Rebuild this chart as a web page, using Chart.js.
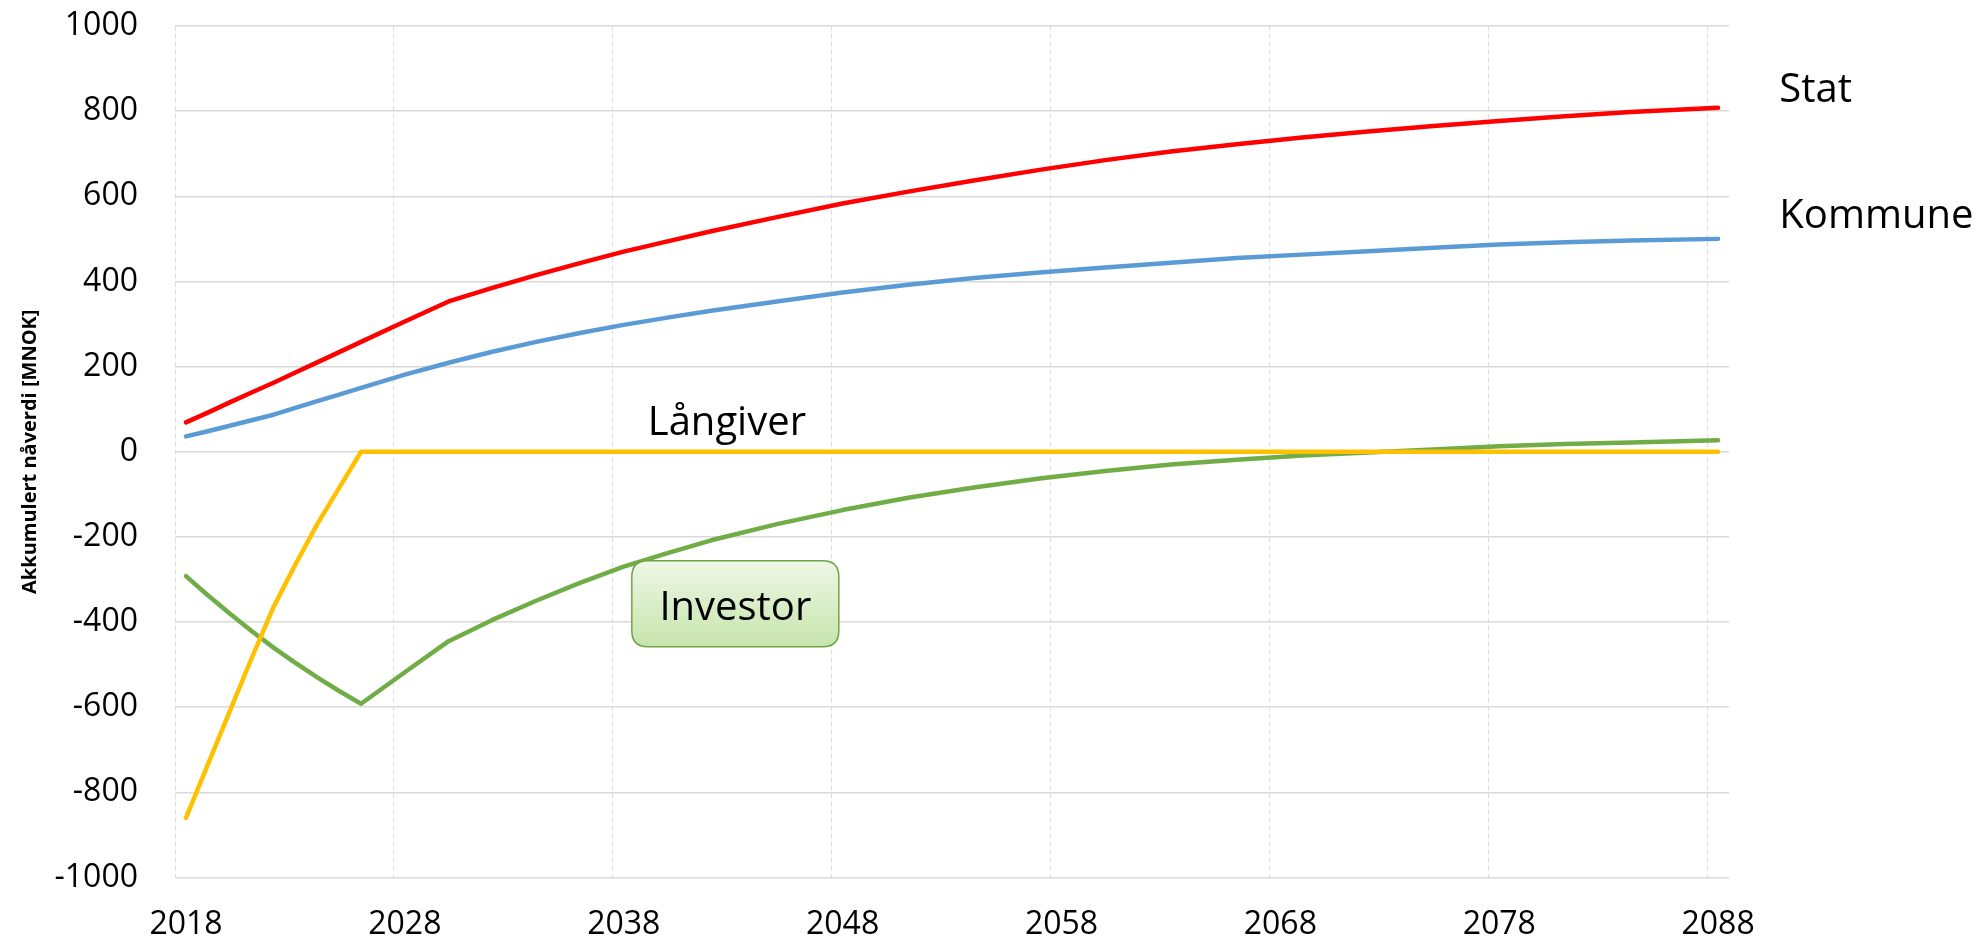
<!DOCTYPE html>
<html>
<head>
<meta charset="utf-8">
<script src="https://cdn.jsdelivr.net/npm/chart.js@4.4.1/dist/chart.umd.min.js"></script>
<style>
  html, body { margin: 0; padding: 0; background: #fff; }
  #wrap { width: 1987px; height: 943px; position: relative; }
</style>
</head>
<body>
<div id="wrap"><canvas id="npvChart"></canvas></div>
<script>
// years, with the series values at those years
const years = [2018, 2019, 2020, 2021, 2022, 2023, 2024, 2025, 2026, 2028, 2030, 2032, 2034, 2036, 2038, 2040,
               2042, 2045, 2048, 2051, 2054, 2057, 2060, 2063, 2066, 2069, 2072, 2075, 2078, 2081, 2084, 2088];
const stat = [69, 92, 116, 139, 162, 186, 210, 234, 258, 306, 353, 385, 415, 443, 470, 494,
              518, 551, 583, 611, 637, 662, 685, 705, 722, 738, 752, 765, 777, 788, 798, 808];
const kommune = [36, 48, 61, 74, 87, 103, 119, 134, 150, 181, 209, 235, 258, 279, 298, 315,
                 331, 353, 374, 392, 408, 421, 433, 444, 455, 463, 471, 479, 487, 492, 496, 500];
const investor = [-292, -337, -380, -421, -460, -496, -530, -562, -592, -518, -445, -395, -350, -308, -270, -238,
                  -208, -170, -137, -108, -84, -63, -45, -30, -19, -9, -2, 5, 13, 18, 22, 27];
const langiver = [-860, -735, -610, -485, -365, -265, -170, -85, 0, 0, 0, 0, 0, 0, 0, 0,
                  0, 0, 0, 0, 0, 0, 0, 0, 0, 0, 0, 0, 0, 0, 0, 0];

const yearTicks = [2018, 2028, 2038, 2048, 2058, 2068, 2078, 2088];
const yTicks = [-1000, -800, -600, -400, -200, 0, 200, 400, 600, 800, 1000];

const FONT = '"Open Sans", "Liberation Sans", sans-serif';

function toPoints(vals) {
    return vals.map((v, i) => ({ x: years[i], y: v }));
}

function roundRect(ctx, x, y, w, h, r) {
    ctx.beginPath();
    ctx.moveTo(x + r, y);
    ctx.lineTo(x + w - r, y);
    ctx.quadraticCurveTo(x + w, y, x + w, y + r);
    ctx.lineTo(x + w, y + h - r);
    ctx.quadraticCurveTo(x + w, y + h, x + w - r, y + h);
    ctx.lineTo(x + r, y + h);
    ctx.quadraticCurveTo(x, y + h, x, y + h - r);
    ctx.lineTo(x, y + r);
    ctx.quadraticCurveTo(x, y, x + r, y);
    ctx.closePath();
}

// series names written next to the lines
const seriesLabels = {
    id: 'seriesLabels',
    afterDatasetsDraw(chart) {
        const { ctx, scales: { x, y } } = chart;
        ctx.save();
        ctx.font = '40px ' + FONT;
        ctx.fillStyle = '#000';
        ctx.textBaseline = 'alphabetic';
        ctx.textAlign = 'left';
        ctx.fillText('Stat', x.getPixelForValue(2090.8), y.getPixelForValue(822));
        ctx.fillText('Kommune', x.getPixelForValue(2090.8), y.getPixelForValue(526));
        ctx.fillText('Långiver', x.getPixelForValue(2039.1), y.getPixelForValue(40));

        // Investor box
        const cx = x.getPixelForValue(2043.1);
        const cy = y.getPixelForValue(-357);
        const w = 207, h = 86;
        const grad = ctx.createLinearGradient(0, cy - h / 2, 0, cy + h / 2);
        grad.addColorStop(0, '#eef7e6');
        grad.addColorStop(1, '#c6e4ab');
        roundRect(ctx, cx - w / 2, cy - h / 2, w, h, 16);
        ctx.fillStyle = grad;
        ctx.fill();
        ctx.lineWidth = 1.5;
        ctx.strokeStyle = '#6fa445';
        ctx.stroke();
        ctx.fillStyle = '#000';
        ctx.textAlign = 'center';
        ctx.fillText('Investor', cx, cy + 16);
        ctx.restore();
    }
};

const ctx = document.getElementById('npvChart').getContext('2d');
new Chart(ctx, {
    type: 'line',
    data: {
        datasets: [
            { label: 'Långiver', data: toPoints(langiver), borderColor: '#ffc000', order: 0 },
            { label: 'Investor', data: toPoints(investor), borderColor: '#70ad47', order: 1 },
            { label: 'Stat', data: toPoints(stat), borderColor: '#ff0000', order: 2 },
            { label: 'Kommune', data: toPoints(kommune), borderColor: '#5b9bd5', order: 3 }
        ]
    },
    options: {
        responsive: true,
        maintainAspectRatio: false,
        animation: false,
        layout: { padding: { left: 0, right: 258, top: 0, bottom: 0 } },
        elements: {
            line: { borderWidth: 4.5, tension: 0, borderCapStyle: 'round', borderJoinStyle: 'round', fill: false },
            point: { radius: 0, hoverRadius: 0 }
        },
        plugins: {
            legend: { display: false },
            tooltip: { enabled: false }
        },
        scales: {
            x: {
                type: 'linear',
                min: 2017.5,
                max: 2088.5,
                afterBuildTicks: (scale) => {
                    scale.ticks = yearTicks.map(v => ({ value: v - 0.5 }));
                },
                afterFit: (scale) => { scale.height = 65.5; },
                border: { display: false, dash: [5, 3] },
                grid: {
                    color: '#dedede',
                    lineWidth: 1,
                    drawTicks: false
                },
                ticks: {
                    autoSkip: false,
                    maxRotation: 0,
                    padding: 28,
                    labelOffset: 11,
                    color: '#000',
                    font: { family: FONT, size: 32 },
                    callback: (v) => String(Math.round(v + 0.5))
                }
            },
            y: {
                min: -1000,
                max: 1000,
                afterBuildTicks: (scale) => {
                    scale.ticks = yTicks.map(v => ({ value: v }));
                },
                afterFit: (scale) => {
                    scale.width = 175;
                    scale.paddingTop = 26;
                    scale.paddingBottom = 20;
                },
                border: { display: false },
                grid: { color: '#d9d9d9', lineWidth: 1.5, drawTicks: false },
                ticks: {
                    padding: 37,
                    color: '#000',
                    font: { family: FONT, size: 32 },
                    callback: (v) => String(v)
                },
                title: {
                    display: true,
                    text: 'Akkumulert nåverdi [MNOK]',
                    color: '#000',
                    font: { family: FONT, size: 20, weight: 'bold' },
                    padding: { top: 18, bottom: 0 }
                }
            }
        }
    },
    plugins: [seriesLabels]
});
</script>
</body>
</html>
